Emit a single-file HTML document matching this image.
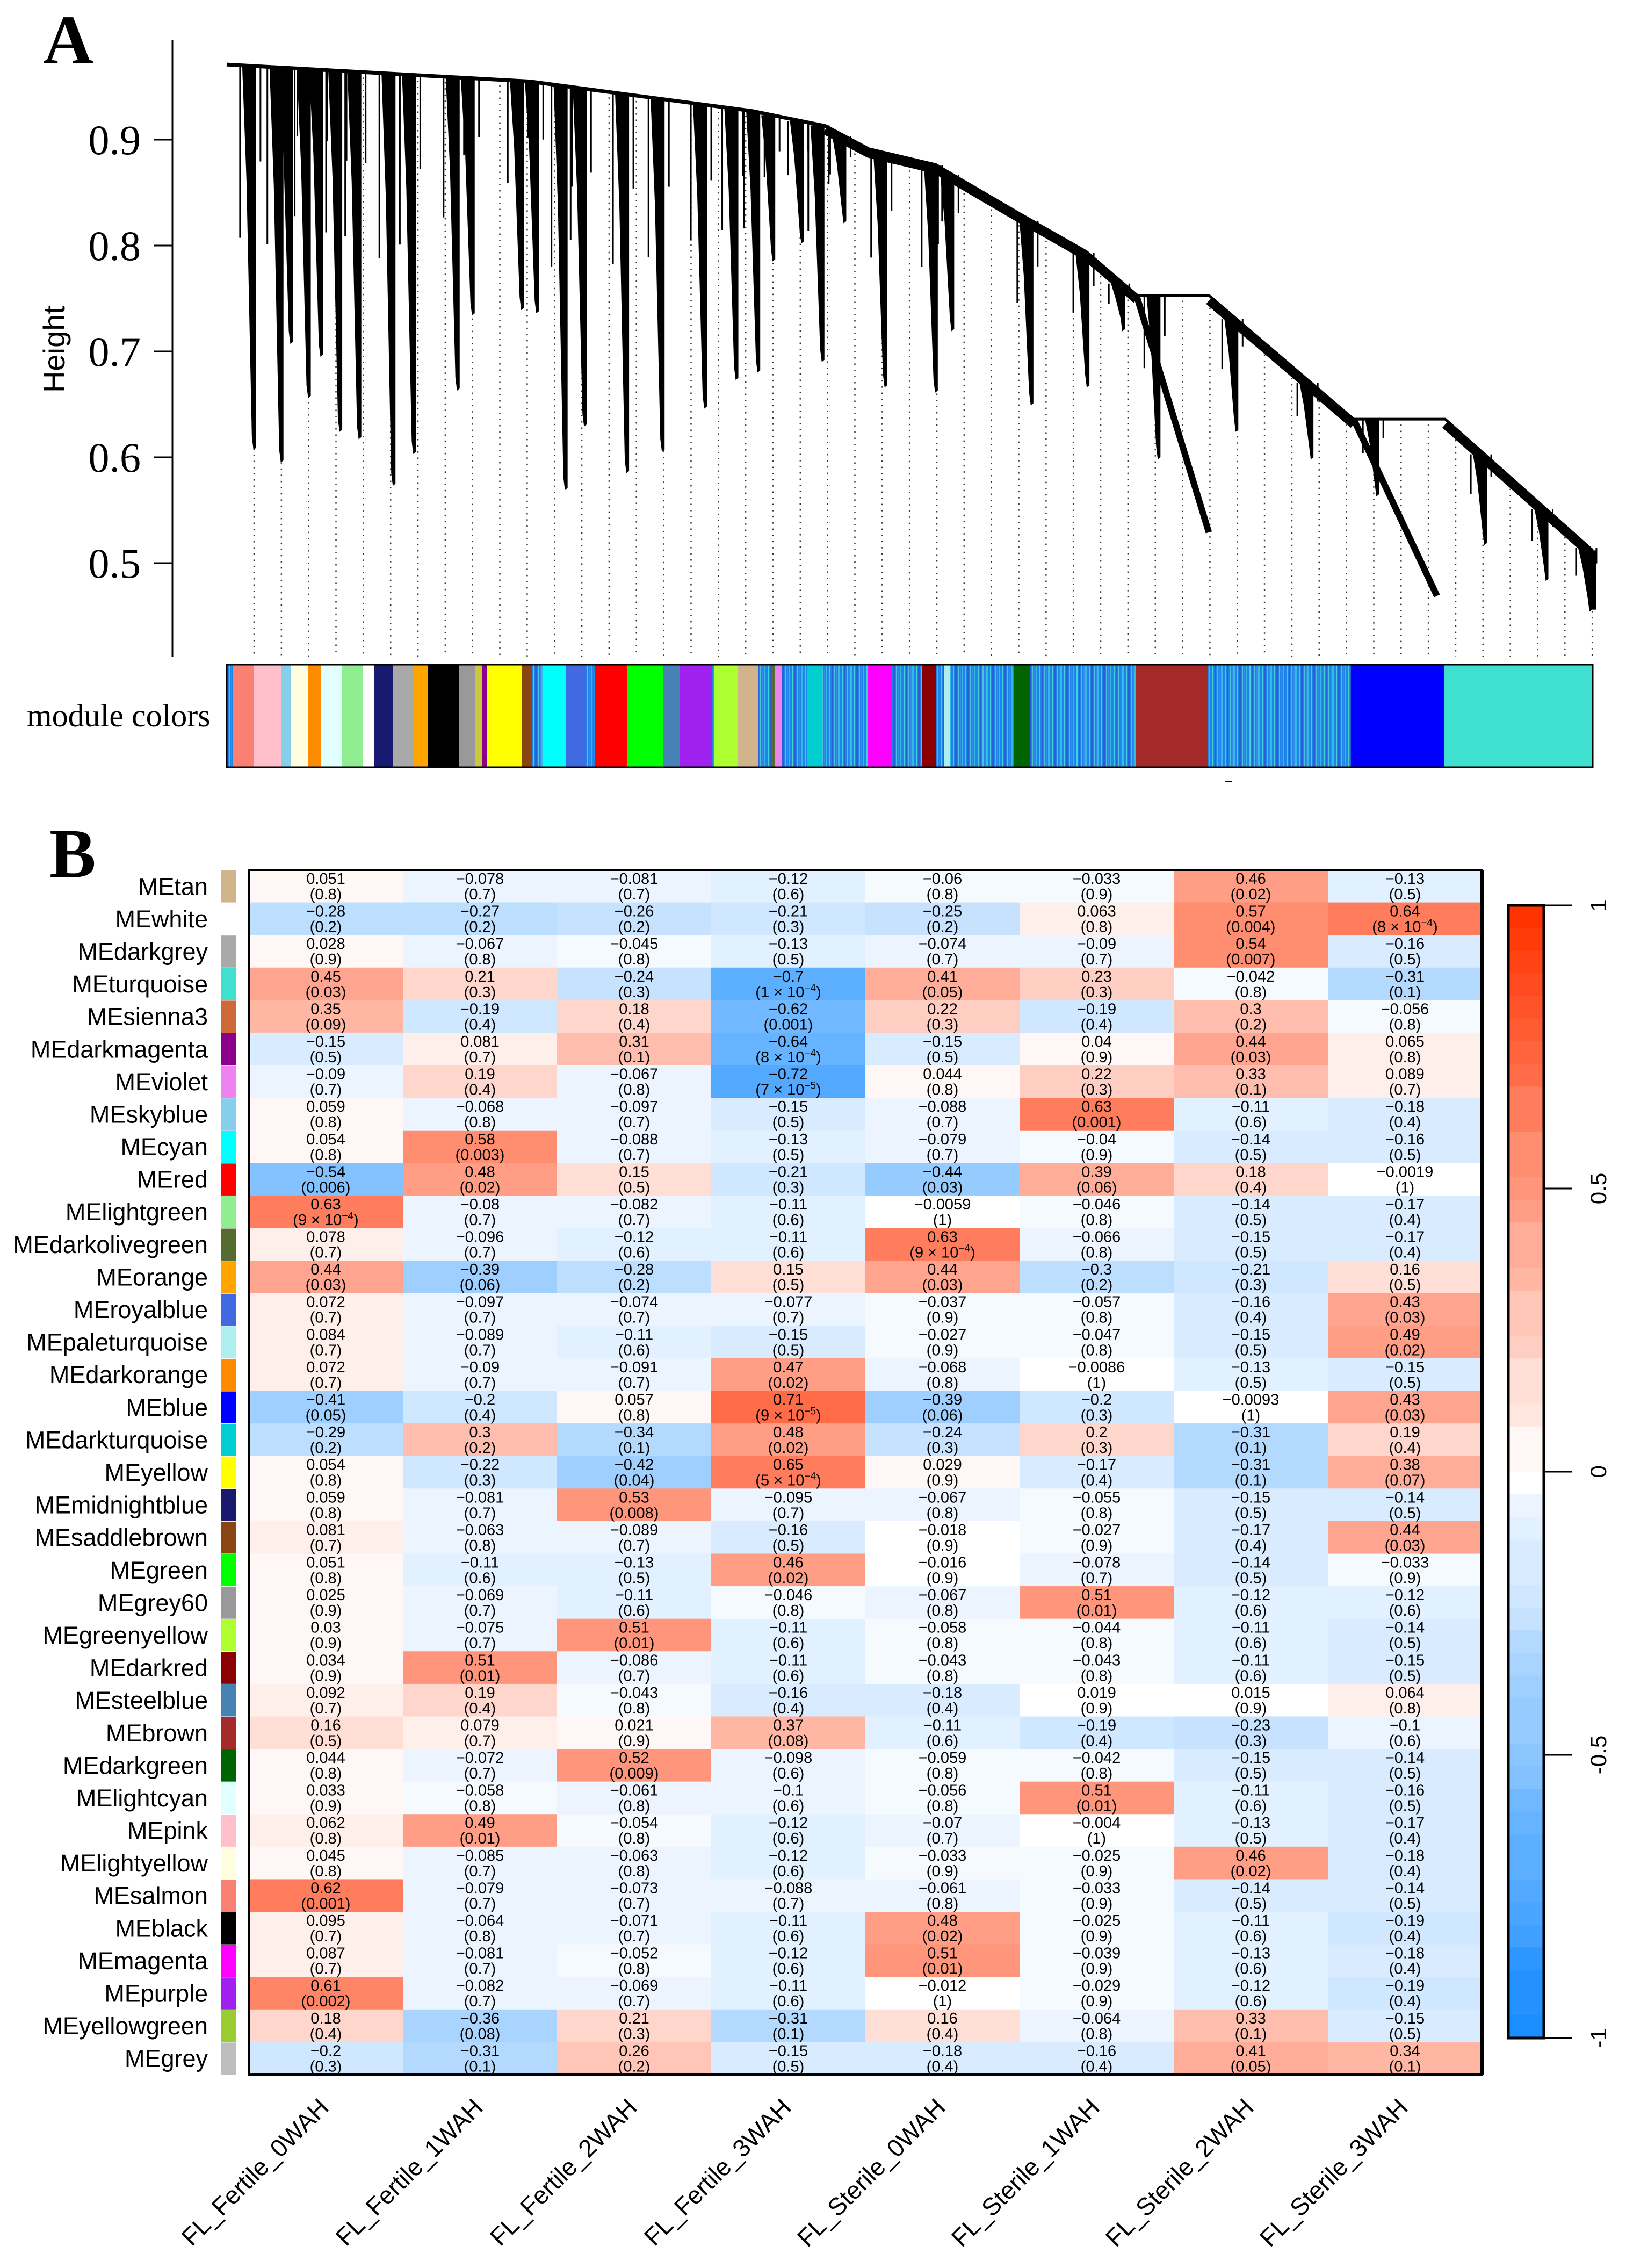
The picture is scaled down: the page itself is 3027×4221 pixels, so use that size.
<!DOCTYPE html>
<html><head><meta charset="utf-8"><style>
html,body{margin:0;padding:0;background:#fff;}
svg{display:block;}
</style></head><body>
<svg id="fig" xmlns="http://www.w3.org/2000/svg" width="3027" height="4221" viewBox="0 0 3027 4221">
<defs>
<pattern id="stripes" patternUnits="userSpaceOnUse" width="23" height="10">
<rect x="0" y="0" width="23" height="10" fill="#1f84e8"/>
<rect x="3" y="0" width="2" height="10" fill="#40d0d8"/>
<rect x="7" y="0" width="3" height="10" fill="#2a5fd8"/>
<rect x="12" y="0" width="2" height="10" fill="#48c0e0"/>
<rect x="16" y="0" width="2" height="10" fill="#3a8ae8"/>
<rect x="19" y="0" width="3" height="10" fill="#35b8e5"/>
</pattern>
</defs>
<g id="panelA"></g>
<g id="panelB"></g>
</svg>
<script>
// ---------- Panel A data ----------
const backbone = [[0,.971],[222,.955],[385,.927],[438,.913],[470,.891],[519,.876],[580,.830],[629,.794],[666,.753],[719,.753],[825,.636],[892,.636],[1000,.512]];
const clusterLeaf = [20,40,47,60,69,83,97,122,137,169,180,216,227,248,262,293,319,350,373,389,400,421,436,452,482,519,531,589,630,656,682,739,794,842,921,966,998];
const clusterTip  = [.609,.597,.709,.658,.697,.626,.619,.575,.605,.665,.736,.741,.738,.571,.631,.587,.607,.648,.675,.682,.787,.804,.692,.823,.668,.663,.721,.651,.668,.721,.600,.626,.600,.565,.519,.485,.456];
const heightTicks = [0.5,0.6,0.7,0.8,0.9];
const moduleSegments = [
 ["s",422,434],["#FA8072",434,473],["#FFC0CB",473,523],["#87CEEB",523,541],["#FFFFE0",541,574],["#FF8C00",574,598],["#E0FFFF",598,636],["#90EE90",636,675],["#FFFFFF",675,697],["#191970",697,732],["#A9A9A9",732,770],["#FFA500",770,797],["#000000",797,855],["#999999",855,885],["#c8c840",885,898],["#8B008B",898,907],["#FFFF00",907,971],["#8B4513",971,990],["s",990,1010],["#00FFFF",1010,1053],["#4169E1",1053,1091],["s",1091,1108],["#FF0000",1108,1167],["#00FF00",1167,1234],["#4682B4",1234,1265],["#A020F0",1265,1325],["s",1325,1330],["#ADFF2F",1330,1373],["#D2B48C",1373,1412],["s",1412,1435],["#556B2F",1435,1443],["#EE82EE",1443,1455],["s",1455,1502],["#00CED1",1502,1530],["s",1530,1615],["#FF00FF",1615,1661],["s",1661,1716],["#8B0000",1716,1742],["s",1742,1758],["#AFEEEE",1758,1768],["s",1768,1888],["#006400",1888,1917],["s",1917,2114],["#A52A2A",2114,2249],["s",2249,2515],["#0000FF",2515,2689],["#40E0D0",2689,2965]];

const NS="http://www.w3.org/2000/svg";
function mk(tag,attrs,parent){const e=document.createElementNS(NS,tag);for(const k in attrs)e.setAttribute(k,attrs[k]);if(parent)parent.appendChild(e);return e;}
const A=document.getElementById('panelA');
const X=l=>422+l*2.543;
const Y=h=>260+(0.9-h)*1970;
function env(l){for(let i=0;i<backbone.length-1;i++){const a=backbone[i],b=backbone[i+1];if(l>=a[0]&&l<=b[0])return a[1]+(b[1]-a[1])*(l-a[0])/(b[0]-a[0]);}return backbone[backbone.length-1][1];}

let t=mk('text',{x:80,y:118,'font-family':'Liberation Serif, serif','font-size':130,'font-weight':'bold'},A);t.textContent='A';


let ax=mk('line',{x1:321,y1:75,x2:321,y2:1223,stroke:'#000','stroke-width':3},A);


heightTicks.forEach(v=>{
 const tk=mk('line',{x1:287,x2:321,y1:Y(v),y2:Y(v),stroke:'#000','stroke-width':3},A);
 
 
 const tl=mk('text',{x:262,y:Y(v)+27,'text-anchor':'end','font-family':'Liberation Serif, serif','font-size':78},A);
 tl.textContent=v.toFixed(1);
 
 
});
let yt=mk('text',{x:0,y:0,transform:'translate(120,650) rotate(-90)','text-anchor':'middle','font-family':'Liberation Sans, sans-serif','font-size':56},A);
yt.textContent='Height';



for(let i=0;i<=49;i++){
 const x=473+i*50.84;const l=(x-422)/2.543;
 const d=mk('line',{x1:x,x2:x,y1:Y(env(l))+10,y2:1223,stroke:'#333','stroke-width':2.5,'stroke-dasharray':'2.5 9'},A);
 
 
}
clusterLeaf.forEach((l,i)=>{
 const hb=env(l), ht=clusterTip[i];
 const xb=X(l), yb=Y(hb), yt2=Y(ht);
 const p=mk('polygon',{points:`${xb-22},${yb} ${xb+4},${yb} ${xb+4},${yt2} ${xb-1},${yt2+4} ${xb-4},${yt2-20} ${xb-14},${yb+(yt2-yb)*0.3}`,fill:'#000'},A);
 
 
 const s=mk('line',{x1:xb-26,x2:xb-26,y1:yb,y2:yb+(yt2-yb)*0.45,stroke:'#000','stroke-width':3},A);
 
 
 const s2=mk('line',{x1:xb+12,x2:xb+12,y1:yb,y2:yb+(yt2-yb)*0.25,stroke:'#000','stroke-width':3},A);
 
 
});
const bpts=backbone.slice(0,9).map(p=>`${X(p[0])},${Y(p[1])}`).join(' ');
let bb=mk('polyline',{points:bpts,fill:'none',stroke:'#000','stroke-width':7},A);


let bb2=mk('polyline',{points:backbone.slice(3,9).map(p=>`${X(p[0])},${Y(p[1])+8}`).join(' '),fill:'none',stroke:'#000','stroke-width':16},A);


let bb3=mk('polyline',{points:backbone.slice(8).map(p=>`${X(p[0])},${Y(p[1])}`).join(' '),fill:'none',stroke:'#000','stroke-width':5},A);


[[9,10],[11,12]].forEach(([a,b])=>{
 const s=mk('line',{x1:X(backbone[a][0]),y1:Y(backbone[a][1])+10,x2:X(backbone[b][0]),y2:Y(backbone[b][1])+10,stroke:'#000','stroke-width':16},A);
 
 
});
[[666,.753,719,.529],[825,.636,886,.469],[1000,.512,1000,.456]].forEach(([l1,h1,l2,h2])=>{
 const s=mk('line',{x1:X(l1),y1:Y(h1),x2:X(l2),y2:Y(h2),stroke:'#000','stroke-width':12},A);
 
 
});

moduleSegments.forEach(([c,x1,x2])=>{
 const r=mk('rect',{x:x1,y:1237,width:x2-x1+0.5,height:191,fill:c==='s'?'url(#stripes)':c},A);
 
 
});
let mb=mk('rect',{x:422,y:1237,width:2543,height:191,fill:'none',stroke:'#000','stroke-width':3},A);


let mcl=mk('text',{x:50,y:1352,'font-family':'Liberation Serif, serif','font-size':60},A);
mcl.textContent='module colors';


let dash=mk('line',{x1:2280,x2:2294,y1:1455,y2:1455,stroke:'#000','stroke-width':2},A);



// ---------- Panel B data ----------
const traits = ["FL_Fertile_0WAH","FL_Fertile_1WAH","FL_Fertile_2WAH","FL_Fertile_3WAH","FL_Sterile_0WAH","FL_Sterile_1WAH","FL_Sterile_2WAH","FL_Sterile_3WAH"];
const modules = ["MEtan","MEwhite","MEdarkgrey","MEturquoise","MEsienna3","MEdarkmagenta","MEviolet","MEskyblue","MEcyan","MEred","MElightgreen","MEdarkolivegreen","MEorange","MEroyalblue","MEpaleturquoise","MEdarkorange","MEblue","MEdarkturquoise","MEyellow","MEmidnightblue","MEsaddlebrown","MEgreen","MEgrey60","MEgreenyellow","MEdarkred","MEsteelblue","MEbrown","MEdarkgreen","MElightcyan","MEpink","MElightyellow","MEsalmon","MEblack","MEmagenta","MEpurple","MEyellowgreen","MEgrey"];
const moduleColors = ["#D2B48C","#FFFFFF","#A9A9A9","#40E0D0","#CD6839","#8B008B","#EE82EE","#87CEEB","#00FFFF","#FF0000","#90EE90","#556B2F","#FFA500","#4169E1","#AFEEEE","#FF8C00","#0000FF","#00CED1","#FFFF00","#191970","#8B4513","#00FF00","#999999","#ADFF2F","#8B0000","#4682B4","#A52A2A","#006400","#E0FFFF","#FFC0CB","#FFFFE0","#FA8072","#000000","#FF00FF","#A020F0","#9ACD32","#BEBEBE"];
const corr = [
[0.051,-0.078,-0.081,-0.12,-0.06,-0.033,0.46,-0.13],
[-0.28,-0.27,-0.26,-0.21,-0.25,0.063,0.57,0.64],
[0.028,-0.067,-0.045,-0.13,-0.074,-0.09,0.54,-0.16],
[0.45,0.21,-0.24,-0.7,0.41,0.23,-0.042,-0.31],
[0.35,-0.19,0.18,-0.62,0.22,-0.19,0.3,-0.056],
[-0.15,0.081,0.31,-0.64,-0.15,0.04,0.44,0.065],
[-0.09,0.19,-0.067,-0.72,0.044,0.22,0.33,0.089],
[0.059,-0.068,-0.097,-0.15,-0.088,0.63,-0.11,-0.18],
[0.054,0.58,-0.088,-0.13,-0.079,-0.04,-0.14,-0.16],
[-0.54,0.48,0.15,-0.21,-0.44,0.39,0.18,-0.0019],
[0.63,-0.08,-0.082,-0.11,-0.0059,-0.046,-0.14,-0.17],
[0.078,-0.096,-0.12,-0.11,0.63,-0.066,-0.15,-0.17],
[0.44,-0.39,-0.28,0.15,0.44,-0.3,-0.21,0.16],
[0.072,-0.097,-0.074,-0.077,-0.037,-0.057,-0.16,0.43],
[0.084,-0.089,-0.11,-0.15,-0.027,-0.047,-0.15,0.49],
[0.072,-0.09,-0.091,0.47,-0.068,-0.0086,-0.13,-0.15],
[-0.41,-0.2,0.057,0.71,-0.39,-0.2,-0.0093,0.43],
[-0.29,0.3,-0.34,0.48,-0.24,0.2,-0.31,0.19],
[0.054,-0.22,-0.42,0.65,0.029,-0.17,-0.31,0.38],
[0.059,-0.081,0.53,-0.095,-0.067,-0.055,-0.15,-0.14],
[0.081,-0.063,-0.089,-0.16,-0.018,-0.027,-0.17,0.44],
[0.051,-0.11,-0.13,0.46,-0.016,-0.078,-0.14,-0.033],
[0.025,-0.069,-0.11,-0.046,-0.067,0.51,-0.12,-0.12],
[0.03,-0.075,0.51,-0.11,-0.058,-0.044,-0.11,-0.14],
[0.034,0.51,-0.086,-0.11,-0.043,-0.043,-0.11,-0.15],
[0.092,0.19,-0.043,-0.16,-0.18,0.019,0.015,0.064],
[0.16,0.079,0.021,0.37,-0.11,-0.19,-0.23,-0.1],
[0.044,-0.072,0.52,-0.098,-0.059,-0.042,-0.15,-0.14],
[0.033,-0.058,-0.061,-0.1,-0.056,0.51,-0.11,-0.16],
[0.062,0.49,-0.054,-0.12,-0.07,-0.004,-0.13,-0.17],
[0.045,-0.085,-0.063,-0.12,-0.033,-0.025,0.46,-0.18],
[0.62,-0.079,-0.073,-0.088,-0.061,-0.033,-0.14,-0.14],
[0.095,-0.064,-0.071,-0.11,0.48,-0.025,-0.11,-0.19],
[0.087,-0.081,-0.052,-0.12,0.51,-0.039,-0.13,-0.18],
[0.61,-0.082,-0.069,-0.11,-0.012,-0.029,-0.12,-0.19],
[0.18,-0.36,0.21,-0.31,0.16,-0.064,0.33,-0.15],
[-0.2,-0.31,0.26,-0.15,-0.18,-0.16,0.41,0.34]];
const pval = [
["0.8","0.7","0.7","0.6","0.8","0.9","0.02","0.5"],
["0.2","0.2","0.2","0.3","0.2","0.8","0.004","8e-4"],
["0.9","0.8","0.8","0.5","0.7","0.7","0.007","0.5"],
["0.03","0.3","0.3","1e-4","0.05","0.3","0.8","0.1"],
["0.09","0.4","0.4","0.001","0.3","0.4","0.2","0.8"],
["0.5","0.7","0.1","8e-4","0.5","0.9","0.03","0.8"],
["0.7","0.4","0.8","7e-5","0.8","0.3","0.1","0.7"],
["0.8","0.8","0.7","0.5","0.7","0.001","0.6","0.4"],
["0.8","0.003","0.7","0.5","0.7","0.9","0.5","0.5"],
["0.006","0.02","0.5","0.3","0.03","0.06","0.4","1"],
["9e-4","0.7","0.7","0.6","1","0.8","0.5","0.4"],
["0.7","0.7","0.6","0.6","9e-4","0.8","0.5","0.4"],
["0.03","0.06","0.2","0.5","0.03","0.2","0.3","0.5"],
["0.7","0.7","0.7","0.7","0.9","0.8","0.4","0.03"],
["0.7","0.7","0.6","0.5","0.9","0.8","0.5","0.02"],
["0.7","0.7","0.7","0.02","0.8","1","0.5","0.5"],
["0.05","0.4","0.8","9e-5","0.06","0.3","1","0.03"],
["0.2","0.2","0.1","0.02","0.3","0.3","0.1","0.4"],
["0.8","0.3","0.04","5e-4","0.9","0.4","0.1","0.07"],
["0.8","0.7","0.008","0.7","0.8","0.8","0.5","0.5"],
["0.7","0.8","0.7","0.5","0.9","0.9","0.4","0.03"],
["0.8","0.6","0.5","0.02","0.9","0.7","0.5","0.9"],
["0.9","0.7","0.6","0.8","0.8","0.01","0.6","0.6"],
["0.9","0.7","0.01","0.6","0.8","0.8","0.6","0.5"],
["0.9","0.01","0.7","0.6","0.8","0.8","0.6","0.5"],
["0.7","0.4","0.8","0.4","0.4","0.9","0.9","0.8"],
["0.5","0.7","0.9","0.08","0.6","0.4","0.3","0.6"],
["0.8","0.7","0.009","0.6","0.8","0.8","0.5","0.5"],
["0.9","0.8","0.8","0.6","0.8","0.01","0.6","0.5"],
["0.8","0.01","0.8","0.6","0.7","1","0.5","0.4"],
["0.8","0.7","0.8","0.6","0.9","0.9","0.02","0.4"],
["0.001","0.7","0.7","0.7","0.8","0.9","0.5","0.5"],
["0.7","0.8","0.7","0.6","0.02","0.9","0.6","0.4"],
["0.7","0.7","0.8","0.6","0.01","0.9","0.6","0.4"],
["0.002","0.7","0.7","0.6","1","0.9","0.6","0.4"],
["0.4","0.08","0.3","0.1","0.4","0.8","0.1","0.5"],
["0.3","0.1","0.2","0.5","0.4","0.4","0.05","0.1"]];
const scaleTicks = [1,0.5,0,-0.5,-1];
const scaleTickLabels = ["1","0.5","0","-0.5","-1"];

const B=document.getElementById('panelB');
const HL=463, HR=2759, HT=1619, HB=3861;
const cw=(HR-HL)/traits.length, rh=(HB-HT)/modules.length;
function col(v){
 const q=Math.round(v*25)/25;
 if(q>=0){return `rgb(255,${Math.round(255-q*204)},${Math.round(255-q*255)})`;}
 const t=-q;return `rgb(${Math.round(255-t*239)},${Math.round(255-t*119)},255)`;
}
const fmt=v=>(v<0?'\u2212':'')+String(Math.abs(v));
let bl=mk('text',{x:92,y:1632,'font-family':'Liberation Serif, serif','font-size':130,'font-weight':'bold'},B);bl.textContent='B';


modules.forEach((m,i)=>{
 const y=HT+i*rh;
 const lab=mk('text',{x:387,y:y+rh/2+16,'text-anchor':'end','font-family':'Liberation Sans, sans-serif','font-size':45},B);
 lab.textContent=m;
 
 
 const sw=mk('rect',{x:411,y:y+1,width:29,height:rh-1,fill:moduleColors[i]},B);
 
 
 traits.forEach((tr,j)=>{
  const v=corr[i][j];
  const c=mk('rect',{x:HL+j*cw,y:y,width:cw+0.5,height:rh+0.5,fill:col(v)},B);
  
  
 });
});
modules.forEach((m,i)=>{
 const y=HT+i*rh;
 traits.forEach((tr,j)=>{
  const cx=HL+j*cw+cw/2;
  const t1=mk('text',{x:cx,y:y+26,'text-anchor':'middle','font-family':'Liberation Sans, sans-serif','font-size':29},B);
  t1.textContent=fmt(corr[i][j]);
  
  
  const t2=mk('text',{x:cx,y:y+55,'text-anchor':'middle','font-family':'Liberation Sans, sans-serif','font-size':29},B);
  
  
  const p=pval[i][j];
  if(p.includes('e')){
   const [mant,ex]=p.split('e');
   t2.appendChild(document.createTextNode('('+mant+' \u00d7 10'));
   const sup=mk('tspan',{'font-size':19,dy:-11},t2);sup.textContent=ex.replace('-','\u2212');
   const cl=mk('tspan',{dy:11},t2);cl.textContent=')';
  } else t2.textContent='('+p+')';
 });
});
let fr=mk('rect',{x:HL,y:HT,width:HR-HL,height:HB-HT,fill:'none',stroke:'#000','stroke-width':4},B);


let fr2=mk('line',{x1:HR,x2:HR,y1:HT,y2:HB,stroke:'#000','stroke-width':8},B);


traits.forEach((tr,j)=>{
 const cx=HL+j*cw+cw/2+8;
 const tl=mk('text',{x:0,y:0,transform:`translate(${cx},3925) rotate(-45)`,'text-anchor':'end','font-family':'Liberation Sans, sans-serif','font-size':46},B);
 tl.textContent=tr;
 
 
});
const CT=1685, CBt=3793, CL=2808, CR=2874;
const SY=v=>CT+(1-v)*(CBt-CT)/2;
for(let k=0;k<50;k++){
 const v1=1-k*0.04, v=v1-0.02;
 const r=mk('rect',{x:CL,y:SY(v1),width:CR-CL,height:(CBt-CT)/50+0.6,fill:col(v)},B);
 
 
}
let cf=mk('rect',{x:CL,y:CT,width:CR-CL,height:CBt-CT,fill:'none',stroke:'#000','stroke-width':5},B);


scaleTicks.forEach((v,k)=>{
 const tk=mk('line',{x1:CR,x2:2927,y1:SY(v),y2:SY(v),stroke:'#000','stroke-width':3},B);
 
 
 const tl=mk('text',{x:0,y:0,transform:`translate(2990,${SY(v)}) rotate(-90)`,'text-anchor':'middle','font-family':'Liberation Sans, sans-serif','font-size':42},B);
 tl.textContent=scaleTickLabels[k];
 
 
});
</script>
</body></html>
